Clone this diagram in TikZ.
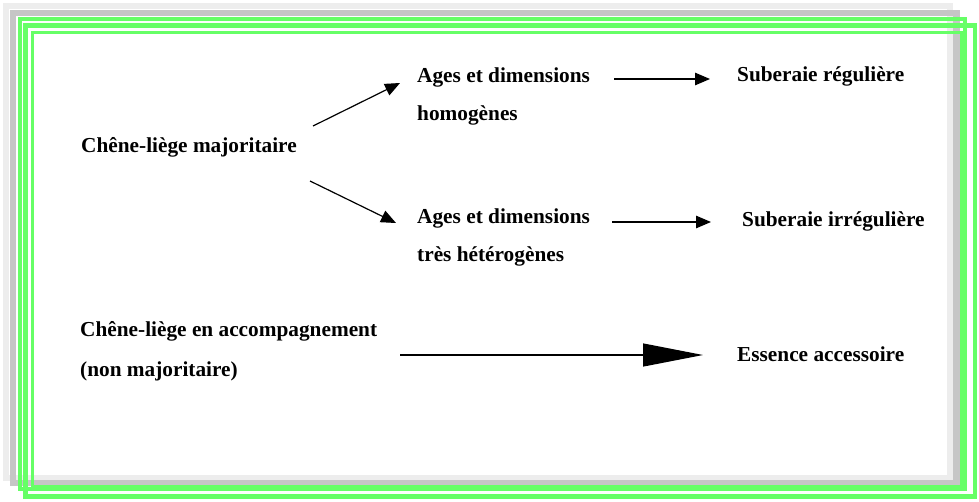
\documentclass[tikz,border=0pt]{standalone}
\usepackage{fontspec}
\setmainfont{Liberation Serif}
\usetikzlibrary{arrows.meta}
\definecolor{brd}{HTML}{66FF66}
\begin{document}
\begin{tikzpicture}[x=1pt,y=-1pt,
  lbl/.style={anchor=base west, inner sep=0pt, font=\fontsize{21.3}{25}\selectfont\bfseries},
  conn/.style={line width=1.2pt, -{Triangle[length=15pt,width=12.5pt]}},
  bigconn/.style={line width=1.2pt, -{Triangle[length=60pt,width=23pt]}},
  faintframe/.style={draw=gray!14, line width=6pt},
  greyframe/.style={draw=gray!45, line width=6.5pt},
  greenframe/.style={draw=brd}]
\useasboundingbox (0,0) rectangle (979,501);
\fill[white] (0,0) rectangle (979,501);
% borders
\path[faintframe] (6,6) rectangle (949.5,477.5);
\path[greyframe] (13,13) rectangle (956.5,483);
\path[greenframe, line width=3pt] (32,32.5) rectangle (961,486);
\path[greenframe, line width=4pt] (19.5,19) rectangle (964.5,489);
\path[greenframe, line width=4.5pt] (25.5,25.5) rectangle (975,496.5);
% texts
\node[lbl] (ages1) at (417,82) {Ages et dimensions};
\node[lbl] (homo) at (417,120) {homogènes};
\node[lbl] (sub1) at (737,81) {Suberaie régulière};
\node[lbl] (cl) at (81,152) {Chêne-liège majoritaire};
\node[lbl] (ages2) at (417,223) {Ages et dimensions};
\node[lbl] (hetero) at (417,261) {très hétérogènes};
\node[lbl] (sub2) at (742,226) {Suberaie irrégulière};
\node[lbl] (acc) at (80,336) {Chêne-liège en accompagnement};
\node[lbl] (nonmaj) at (80,376) {(non majoritaire)};
\node[lbl] (ess) at (737,361) {Essence accessoire};
% connector ends
\coordinate (a1s) at (313,126); \coordinate (a1e) at (400,83);
\coordinate (a2s) at (310,181); \coordinate (a2e) at (396,223);
\coordinate (a3s) at (614,79); \coordinate (a3e) at (710,79);
\coordinate (a4s) at (612,222); \coordinate (a4e) at (711,222);
\coordinate (a5s) at (400,355); \coordinate (a5e) at (703,355);
\draw[conn] (a1s) -- (a1e);
\draw[conn] (a2s) -- (a2e);
\draw[conn] (a3s) -- (a3e);
\draw[conn] (a4s) -- (a4e);
\draw[bigconn] (a5s) -- (a5e);
\end{tikzpicture}
\end{document}
